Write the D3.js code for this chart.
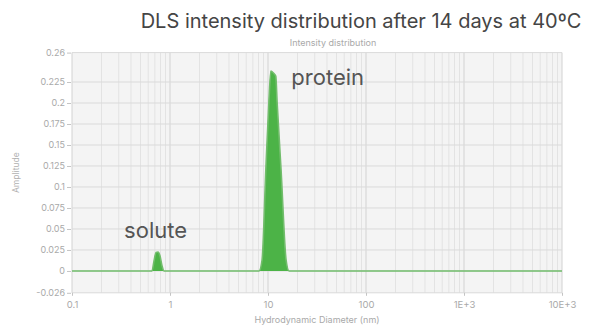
<!DOCTYPE html>
<html>
<head>
<meta charset="utf-8">
<script src="https://cdn.jsdelivr.net/npm/d3@7"></script>
<style>
  body { margin: 0; background: #fff; }
  svg { display: block; }
</style>
</head>
<body>
<svg id="chart"></svg>
<script>
const width = 592, height = 327;
const title_text = "DLS intensity distribution after 14 days at 40ºC";
const subtitle_text = "Intensity distribution";
const x_label = "Hydrodynamic Diameter (nm)";
const y_label = "Amplitude";
const font_family = "Inter, 'Open Sans', sans-serif";

// x ticks (log) and labels
const x_ticks = [0.1, 1, 10, 100, 1000, 10000];
const x_tick_labels = ["0.1", "1", "10", "100", "1E+3", "10E+3"];
// y ticks and labels
const y_ticks = [-0.026, 0, 0.025, 0.05, 0.075, 0.1, 0.125, 0.15, 0.175, 0.2, 0.225, 0.26];
const y_tick_labels = ["-0.026", "0", "0.025", "0.05", "0.075", "0.1", "0.125", "0.15", "0.175", "0.2", "0.225", "0.26"];

// distribution
const diameters = [0.1, 0.655, 0.687, 0.72, 0.755, 0.79, 0.83, 0.87,
  8.1, 8.7, 9.5, 10.2, 10.7, 11.3, 12.0, 12.4, 13.6, 15.3, 16.4, 10000];
const amplitudes = [0, 0, 0.012, 0.022, 0.0225, 0.018, 0.006, 0,
  0, 0.013, 0.12, 0.2, 0.238, 0.236, 0.232, 0.2, 0.12, 0.013, 0, 0];

const annotations = [
  { text: "protein", d: 17.3, a: 0.221 },
  { text: "solute", d: 0.34, a: 0.039 }
];

const margin = { top: 52.6, right: 30, bottom: 34.2, left: 72 };

const svg = d3.select("#chart").attr("width", width).attr("height", height);

const x = d3.scaleLog().domain([0.1, 10000]).range([margin.left, width - margin.right]);
const y = d3.scaleLinear().domain([-0.026, 0.26]).range([height - margin.bottom, margin.top]);

// plot background
svg.append("rect")
  .attr("x", x(0.1)).attr("y", y(0.26))
  .attr("width", x(10000) - x(0.1)).attr("height", y(-0.026) - y(0.26))
  .attr("fill", "#f4f4f4");

// vertical grid (minor + major)
const minor = [];
for (let e = -1; e < 4; e++) {
  for (let m = 2; m <= 9; m++) minor.push(m * Math.pow(10, e));
}
svg.selectAll(".vminor").data(minor).enter().append("line")
  .attr("x1", d => x(d)).attr("x2", d => x(d))
  .attr("y1", y(0.26)).attr("y2", y(-0.026))
  .attr("stroke", "#e3e3e3").attr("stroke-width", 1);
svg.selectAll(".vmajor").data(x_ticks).enter().append("line")
  .attr("x1", d => x(d)).attr("x2", d => x(d))
  .attr("y1", y(0.26)).attr("y2", y(-0.026))
  .attr("stroke", "#d2d2d2").attr("stroke-width", 1);

// horizontal grid
svg.selectAll(".hgrid").data(y_ticks).enter().append("line")
  .attr("x1", x(0.1)).attr("x2", x(10000))
  .attr("y1", d => y(d)).attr("y2", d => y(d))
  .attr("stroke", "#dadada").attr("stroke-width", 1);

// axes
const yAxis = d3.axisLeft(y).tickValues(y_ticks)
  .tickFormat((d, i) => y_tick_labels[i]).tickSize(4).tickPadding(2);
const gy = svg.append("g").attr("transform", `translate(${x(0.1) - 1},0)`).call(yAxis);
gy.select(".domain").remove();
gy.selectAll(".tick line").attr("stroke", "#c4c4c4");
gy.selectAll("text").attr("fill", "#a9a9a9").attr("font-size", 9).attr("font-family", font_family);

const xAxis = d3.axisBottom(x).tickValues(x_ticks)
  .tickFormat((d, i) => x_tick_labels[i]).tickSize(3).tickPadding(5);
const gx = svg.append("g").attr("transform", `translate(0,${y(-0.026)})`).call(xAxis);
gx.select(".domain").remove();
gx.selectAll(".tick line").attr("stroke", "#c4c4c4");
gx.selectAll("text").attr("fill", "#a9a9a9").attr("font-size", 9.5).attr("font-family", font_family);

// distribution
const pts = diameters.map((d, i) => [d, amplitudes[i]]);
svg.append("path")
  .datum(pts)
  .attr("d", d3.area().x(d => x(d[0])).y0(y(0)).y1(d => y(d[1])).curve(d3.curveMonotoneX))
  .attr("fill", "#4cb347");
svg.append("path")
  .datum(pts)
  .attr("d", d3.line().x(d => x(d[0])).y(d => y(d[1])).curve(d3.curveMonotoneX))
  .attr("fill", "none")
  .attr("stroke", "#72bd6c")
  .attr("stroke-width", 1.6);

// titles
svg.append("text")
  .attr("x", 361).attr("y", 28)
  .attr("text-anchor", "middle")
  .attr("font-family", font_family).attr("font-size", 20)
  .attr("fill", "#454545")
  .text(title_text);
svg.append("text")
  .attr("x", 333).attr("y", 46)
  .attr("text-anchor", "middle")
  .attr("font-family", font_family).attr("font-size", 9)
  .attr("fill", "#a9a9a9")
  .text(subtitle_text);
svg.append("text")
  .attr("x", (x(0.1) + x(10000)) / 2).attr("y", 323)
  .attr("text-anchor", "middle")
  .attr("font-family", font_family).attr("font-size", 9)
  .attr("fill", "#a9a9a9")
  .text(x_label);
svg.append("text")
  .attr("transform", `translate(19,${(y(0.26) + y(-0.026)) / 2}) rotate(-90)`)
  .attr("text-anchor", "middle")
  .attr("font-family", font_family).attr("font-size", 8.5)
  .attr("fill", "#b0b0b0")
  .text(y_label);

// annotations
svg.selectAll(".annot").data(annotations).enter().append("text")
  .attr("x", d => x(d.d)).attr("y", d => y(d.a))
  .attr("text-anchor", "start")
  .attr("font-family", font_family).attr("font-size", 22)
  .attr("fill", "#555")
  .text(d => d.text);
</script>
</body>
</html>
